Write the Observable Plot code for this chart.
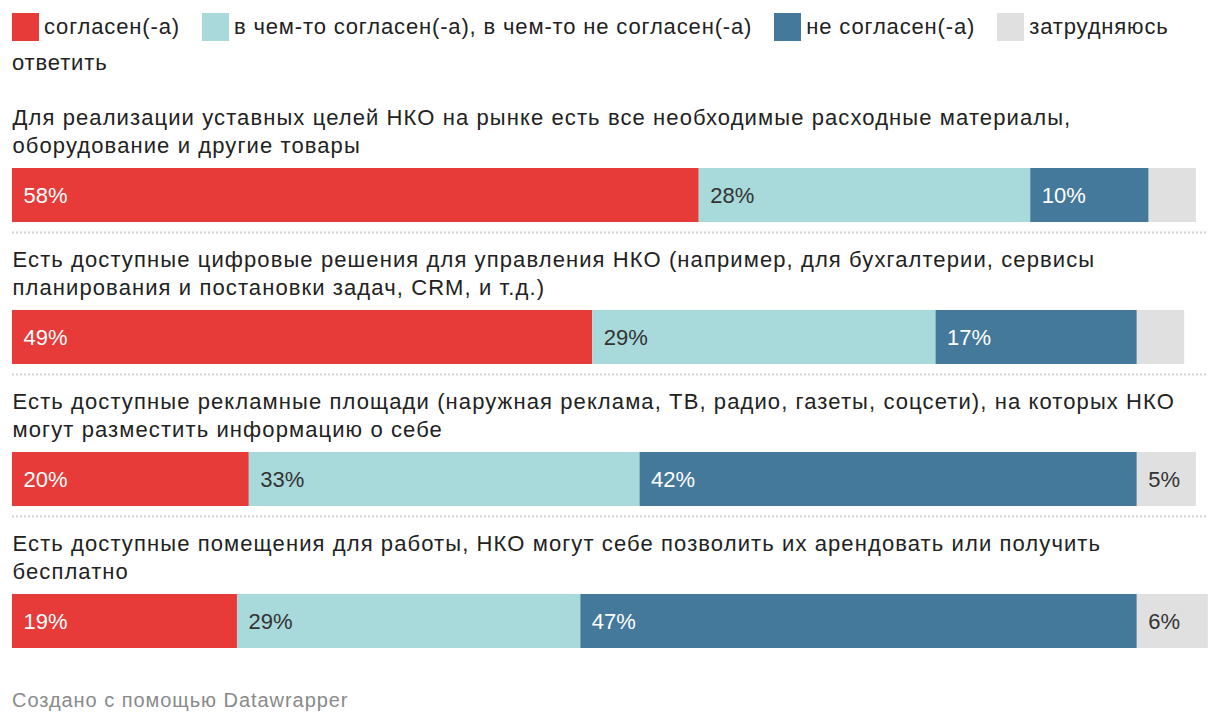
<!DOCTYPE html>
<html>
<head>
<meta charset="utf-8">
<script src="https://cdn.jsdelivr.net/npm/d3@7"></script>
<script src="https://cdn.jsdelivr.net/npm/@observablehq/plot@0.6"></script>
<style>
  html, body { margin: 0; padding: 0; background: #fff; }
  body { font-family: "Liberation Sans", Arial, sans-serif; color: #222; width: 1220px; }
  #legend { box-sizing: border-box; width: 1208px; padding: 9px 0 0 12px; height: 81px; font-size: 22px; line-height: 36px; letter-spacing: 0.85px; }
  #legend .sw { display: inline-block; width: 27px; height: 28px; vertical-align: -7px; margin-right: 5px; }
  #legend .sw.next { margin-left: 22px; }
  #footer { margin: 20px 0 0 12px; font-size: 20px; line-height: 24px; color: #8a8a8a; letter-spacing: 0.95px; }
  svg { display: block; }
</style>
</head>
<body>
<div id="legend"></div>
<div id="chart"></div>
<div id="footer">Создано с помощью Datawrapper</div>
<script>
const questions = [
  "Для реализации уставных целей НКО на рынке есть все необходимые расходные материалы,\nоборудование и другие товары",
  "Есть доступные цифровые решения для управления НКО (например, для бухгалтерии, сервисы\nпланирования и постановки задач, CRM, и т.д.)",
  "Есть доступные рекламные площади (наружная реклама, ТВ, радио, газеты, соцсети), на которых НКО\nмогут разместить информацию о себе",
  "Есть доступные помещения для работы, НКО могут себе позволить их арендовать или получить\nбесплатно"
];
const categories = ["согласен(-а)", "в чем-то согласен(-а), в чем-то не согласен(-а)", "не согласен(-а)", "затрудняюсь ответить"];
const colors = ["#e63b39", "#a8d9db", "#45799b", "#e0e0e0"];
const agree    = [58, 49, 20, 19];
const partly   = [28, 29, 33, 29];
const disagree = [10, 17, 42, 47];
const unsure   = [4, 4, 5, 6];

const series = [agree, partly, disagree, unsure];
const rows = [];
questions.forEach((q, i) => {
  categories.forEach((c, j) => rows.push({question: q, category: c, value: series[j][i]}));
});
const totals = questions.map((q, i) => d3.sum(series, s => s[i]));
const lightText = new Set([categories[0], categories[2]]);
const FONT = "'Liberation Sans', Arial, sans-serif";

// legend: swatch + one span per word so that a wrapped key has no box spanning two lines
const legend = document.getElementById("legend");
categories.forEach((c, j) => {
  const sw = document.createElement("span");
  sw.className = j ? "sw next" : "sw";
  sw.style.background = colors[j];
  legend.appendChild(sw);
  const words = c.split(" ");
  words.forEach((w, k) => {
    const s = document.createElement("span");
    s.textContent = k < words.length - 1 ? w + " " : w;
    legend.appendChild(s);
  });
});

// labels: stack over all rows, show only the text that belongs to this colour group
const labels = (keep, fill) => Plot.text(rows, Plot.stackX1({
  x: "value", y: "question", order: null,
  text: d => keep(d) ? d.value + "%" : "",
  fill,
  textAnchor: "start", dx: 11, dy: 24, fontSize: 22
}));

const chart = Plot.plot({
  width: 1220,
  height: 587,
  marginTop: 19,
  marginBottom: 0,
  marginLeft: 12,
  marginRight: 24,
  style: {fontFamily: FONT, background: "#fff"},
  x: {domain: [0, 100], axis: null},
  y: {domain: questions, axis: null, padding: 0},
  color: {domain: categories, range: colors},
  marks: [
    Plot.ruleY(questions.slice(0, -1), {
      y: d => d, x1: 0, x2: d3.max(totals), dy: 61,
      stroke: "#d2d2d2", strokeWidth: 2, strokeDasharray: "2,2"
    }),
    Plot.text(questions, {
      y: d => d, text: d => d, frameAnchor: "left",
      textAnchor: "start", lineAnchor: "middle", lineHeight: 1.3,
      dy: -41.5, fontSize: 22, fill: "#222"
    }),
    Plot.barX(rows, Plot.stackX({
      x: "value", y: "question", fill: "category", order: null,
      insetTop: 68, insetBottom: 20
    })),
    labels(d => lightText.has(d.category), "#fff"),
    labels(d => !lightText.has(d.category) && d.value >= 5, "#333")
  ]
});
// the first text mark holds the question titles: widen their tracking
d3.select(chart).selectAll("g[aria-label='text']").filter((d, i) => i === 0)
  .style("letter-spacing", "1.1px");
document.getElementById("chart").appendChild(chart);
</script>
</body>
</html>
